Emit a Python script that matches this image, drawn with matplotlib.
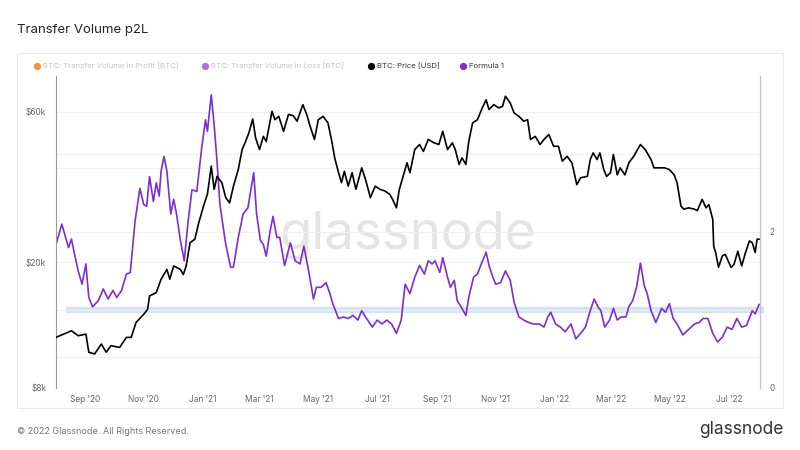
import numpy as np
import pandas as pd
import matplotlib
matplotlib.use("Agg")
import matplotlib.pyplot as plt
import matplotlib.dates as mdates
from matplotlib.lines import Line2D
from matplotlib.patches import Rectangle
from matplotlib.ticker import NullFormatter

plt.rcParams['font.family'] = ['Inter', 'DejaVu Sans']

# BTC price [USD]
price_dates = [
    '2020-08-02', '2020-08-10', '2020-08-18', '2020-08-25', '2020-09-02', '2020-09-05',
    '2020-09-11', '2020-09-18', '2020-09-23', '2020-09-28', '2020-10-07', '2020-10-14',
    '2020-10-19', '2020-10-24', '2020-11-01', '2020-11-05', '2020-11-07', '2020-11-14',
    '2020-11-19', '2020-11-25', '2020-11-28', '2020-12-02', '2020-12-09', '2020-12-12',
    '2020-12-15', '2020-12-19', '2020-12-24', '2020-12-28', '2021-01-02', '2021-01-06',
    '2021-01-10', '2021-01-13', '2021-01-16', '2021-01-21', '2021-01-25', '2021-01-29',
    '2021-02-02', '2021-02-07', '2021-02-11', '2021-02-14', '2021-02-18', '2021-02-22',
    '2021-02-25', '2021-03-01', '2021-03-05', '2021-03-08', '2021-03-14', '2021-03-17',
    '2021-03-21', '2021-03-26', '2021-03-31', '2021-04-05', '2021-04-09', '2021-04-15',
    '2021-04-19', '2021-04-22', '2021-04-27', '2021-05-01', '2021-05-06', '2021-05-11',
    '2021-05-15', '2021-05-18', '2021-05-22', '2021-05-25', '2021-05-28', '2021-06-01',
    '2021-06-05', '2021-06-09', '2021-06-15', '2021-06-19', '2021-06-24', '2021-06-29',
    '2021-07-04', '2021-07-09', '2021-07-14', '2021-07-17', '2021-07-21', '2021-07-24',
    '2021-08-01', '2021-08-04', '2021-08-09', '2021-08-14', '2021-08-18', '2021-08-23',
    '2021-08-29', '2021-09-03', '2021-09-07', '2021-09-12', '2021-09-17', '2021-09-20',
    '2021-09-24', '2021-09-27', '2021-10-01', '2021-10-04', '2021-10-08', '2021-10-13',
    '2021-10-18', '2021-10-22', '2021-10-25', '2021-10-30', '2021-11-04', '2021-11-08',
    '2021-11-11', '2021-11-16', '2021-11-20', '2021-11-25', '2021-11-30', '2021-12-04',
    '2021-12-07', '2021-12-12', '2021-12-17', '2021-12-21', '2021-12-26', '2021-12-31',
    '2022-01-05', '2022-01-09', '2022-01-14', '2022-01-19', '2022-01-24', '2022-01-28',
    '2022-02-04', '2022-02-07', '2022-02-10', '2022-02-14', '2022-02-17', '2022-02-21',
    '2022-02-24', '2022-02-28', '2022-03-03', '2022-03-07', '2022-03-10', '2022-03-15',
    '2022-03-19', '2022-03-24', '2022-03-28', '2022-03-31', '2022-04-05', '2022-04-11',
    '2022-04-14', '2022-04-19', '2022-04-25', '2022-04-30', '2022-05-05', '2022-05-08',
    '2022-05-12', '2022-05-15', '2022-05-20', '2022-05-26', '2022-05-29', '2022-06-03',
    '2022-06-07', '2022-06-10', '2022-06-14', '2022-06-15', '2022-06-17', '2022-06-20',
    '2022-06-24', '2022-06-27', '2022-07-03', '2022-07-06', '2022-07-10', '2022-07-14',
    '2022-07-18', '2022-07-22', '2022-07-25', '2022-07-28', '2022-07-30', '2022-08-01',
]
price_usd = [
    11570, 11850, 12140, 11710, 11850, 10380,
    10250, 11020, 10380, 10890, 10750, 11570,
    11570, 12900, 13700, 14200, 15660, 16050,
    17700, 19000, 17700, 19500, 19000, 18300,
    19500, 23100, 23700, 26700, 30200, 32900,
    40400, 34100, 37500, 35800, 32100, 30900,
    34900, 39400, 45600, 47900, 51500, 57000,
    49600, 45600, 50200, 48400, 60300, 56700,
    58100, 52100, 58900, 58400, 56100, 63300,
    58900, 54700, 49100, 56700, 58100, 55400,
    48400, 42900, 38500, 35800, 38900, 34900,
    38500, 34100, 39900, 36600, 32100, 34900,
    34100, 33700, 32900, 31700, 29800, 34100,
    41400, 38500, 45600, 47300, 45000, 49100,
    47900, 47300, 52100, 45600, 47900, 45600,
    40900, 42900, 40900, 48400, 55400, 56700,
    61800, 65600, 61100, 63300, 61800, 62500,
    67300, 64100, 59600, 58100, 56100, 56700,
    49100, 50200, 47300, 49100, 50900, 46700,
    46700, 41900, 43400, 41400, 35300, 37100,
    37500, 42400, 44500, 42400, 44500, 39400,
    37500, 38500, 44000, 37900, 39900, 37900,
    41400, 43400, 45600, 47300, 45600, 42400,
    39900, 39900, 39900, 39400, 37900, 35800,
    30200, 29500, 29800, 29500, 29200, 31700,
    29800, 30500, 27400, 22500, 21500, 19300,
    21000, 21200, 19300, 19700, 21700, 19500,
    21500, 23400, 23100, 21500, 23700, 23700,
]

# Formula 1 (profit / loss transfer volume), right axis
formula_dates = [
    '2020-08-02', '2020-08-08', '2020-08-11', '2020-08-15', '2020-08-18', '2020-08-22',
    '2020-08-25', '2020-08-29', '2020-09-02', '2020-09-05', '2020-09-09', '2020-09-15',
    '2020-09-20', '2020-09-25', '2020-09-30', '2020-10-04', '2020-10-09', '2020-10-14',
    '2020-10-18', '2020-10-23', '2020-10-28', '2020-11-01', '2020-11-04', '2020-11-07',
    '2020-11-11', '2020-11-14', '2020-11-17', '2020-11-19', '2020-11-22', '2020-11-25',
    '2020-11-29', '2020-12-02', '2020-12-05', '2020-12-09', '2020-12-13', '2020-12-17',
    '2020-12-21', '2020-12-26', '2020-12-31', '2021-01-04', '2021-01-06', '2021-01-10',
    '2021-01-13', '2021-01-16', '2021-01-19', '2021-01-25', '2021-01-30', '2021-02-02',
    '2021-02-07', '2021-02-12', '2021-02-17', '2021-02-23', '2021-02-26', '2021-03-02',
    '2021-03-05', '2021-03-08', '2021-03-12', '2021-03-15', '2021-03-19', '2021-03-22',
    '2021-03-27', '2021-04-02', '2021-04-07', '2021-04-12', '2021-04-16', '2021-04-21',
    '2021-04-26', '2021-04-29', '2021-05-04', '2021-05-09', '2021-05-13', '2021-05-16',
    '2021-05-22', '2021-05-27', '2021-06-01', '2021-06-06', '2021-06-11', '2021-06-15',
    '2021-06-19', '2021-06-26', '2021-07-01', '2021-07-06', '2021-07-11', '2021-07-16',
    '2021-07-21', '2021-07-26', '2021-07-30', '2021-08-04', '2021-08-09', '2021-08-14',
    '2021-08-19', '2021-08-23', '2021-08-27', '2021-08-30', '2021-09-04', '2021-09-07',
    '2021-09-12', '2021-09-15', '2021-09-19', '2021-09-22', '2021-09-26', '2021-10-01',
    '2021-10-04', '2021-10-09', '2021-10-13', '2021-10-17', '2021-10-22', '2021-10-25',
    '2021-10-29', '2021-11-01', '2021-11-06', '2021-11-11', '2021-11-16', '2021-11-20',
    '2021-11-25', '2021-11-30', '2021-12-05', '2021-12-10', '2021-12-16', '2021-12-21',
    '2021-12-25', '2021-12-28', '2022-01-02', '2022-01-07', '2022-01-12', '2022-01-18',
    '2022-01-23', '2022-01-28', '2022-02-02', '2022-02-07', '2022-02-11', '2022-02-15',
    '2022-02-18', '2022-02-22', '2022-02-27', '2022-03-03', '2022-03-07', '2022-03-11',
    '2022-03-16', '2022-03-19', '2022-03-23', '2022-03-27', '2022-03-31', '2022-04-04',
    '2022-04-07', '2022-04-11', '2022-04-16', '2022-04-22', '2022-04-26', '2022-04-30',
    '2022-05-04', '2022-05-08', '2022-05-14', '2022-05-20', '2022-05-26', '2022-05-31',
    '2022-06-04', '2022-06-09', '2022-06-14', '2022-06-19', '2022-06-24', '2022-06-29',
    '2022-07-04', '2022-07-09', '2022-07-14', '2022-07-19', '2022-07-25', '2022-07-28',
    '2022-08-01',
]
formula_vals = [
    1.84, 2.10, 1.97, 1.80, 1.91, 1.67,
    1.50, 1.33, 1.59, 1.16, 1.04, 1.12,
    1.27, 1.14, 1.25, 1.16, 1.25, 1.46,
    1.48, 2.14, 2.56, 2.35, 2.33, 2.71,
    2.39, 2.63, 2.46, 2.78, 2.97, 2.78,
    2.23, 2.42, 2.23, 1.89, 1.63, 2.14,
    2.54, 2.52, 3.07, 3.44, 3.29, 3.76,
    3.37, 2.90, 2.35, 1.84, 1.55, 1.55,
    1.93, 2.23, 2.31, 2.76, 2.23, 1.89,
    1.84, 1.69, 2.01, 2.20, 1.93, 1.93,
    1.57, 1.86, 1.63, 1.59, 1.82, 1.50,
    1.14, 1.29, 1.29, 1.35, 1.21, 1.08,
    0.89, 0.91, 0.89, 0.93, 0.87, 0.99,
    0.91, 0.78, 0.87, 0.82, 0.87, 0.82,
    0.70, 0.87, 1.33, 1.21, 1.42, 1.57,
    1.46, 1.63, 1.59, 1.63, 1.48, 1.67,
    1.42, 1.29, 1.38, 1.12, 1.04, 0.93,
    1.16, 1.42, 1.46, 1.59, 1.74, 1.57,
    1.42, 1.33, 1.35, 1.50, 1.38, 1.10,
    0.91, 0.87, 0.84, 0.82, 0.82, 0.78,
    0.91, 0.97, 0.82, 0.78, 0.72, 0.82,
    0.63, 0.70, 0.78, 0.99, 1.14, 1.04,
    0.99, 0.78, 0.87, 1.02, 0.87, 0.91,
    0.91, 1.04, 1.12, 1.29, 1.60, 1.31,
    1.21, 0.99, 0.84, 1.02, 0.97, 1.08,
    0.89, 0.82, 0.68, 0.75, 0.82, 0.84,
    0.89, 0.89, 0.70, 0.59, 0.65, 0.78,
    0.75, 0.89, 0.78, 0.80, 0.99, 0.95,
    1.07,
]

# reference level for the ratio
ref_level = 1.0
ref_span = ['2020-08-12', '2022-08-06']

price_lim = (8000, 78000)
left_ticks = [8000, 20000, 60000]
left_labels = ['$8k', '$20k', '$60k']
left_grid = [10000, 20000, 40000, 60000]
formula_lim = (0, 4)
right_ticks = [0, 2]
right_minor = [1, 3]

price_dates = pd.to_datetime(price_dates)
formula_dates = pd.to_datetime(formula_dates)

fig = plt.figure(figsize=(8, 4.5), dpi=100)
fig.patch.set_facecolor('white')

# light panel frame around the chart
fig.add_artist(Rectangle((17 / 800, 1 - 408 / 450), 766 / 800, 355 / 450,
                         transform=fig.transFigure, fill=False,
                         edgecolor='#e9e9e9', lw=0.8))

# bottom axes: Formula 1 (right scale), top axes: price (left scale)
ax = fig.add_axes([0.07, 0.138, 0.88, 0.693])
ax2 = ax.twinx()

ax.set_xlim(pd.Timestamp('2020-08-02'), pd.Timestamp('2022-08-02'))
ax.set_ylim(*formula_lim)
ax.set_yticks(right_ticks)
ax.set_yticks(right_minor, minor=True)
ax.yaxis.set_minor_formatter(NullFormatter())
ax.grid(True, which='both', axis='y', color='#f0f0f0', lw=0.8, zorder=0)
ax.yaxis.tick_right()

# price grid drawn on the bottom axes so it stays under both lines
lo, hi = np.log(price_lim[0]), np.log(price_lim[1])
for v in left_grid:
    fy = (np.log(v) - lo) / (hi - lo)
    ax.plot([0, 1], [fy, fy], transform=ax.transAxes, color='#f0f0f0', lw=0.8, zorder=0)

# watermark
ax.text(0.5, 0.49, 'glassnode', transform=ax.transAxes, ha='center', va='center',
        fontsize=38, color='#e4e4e4', zorder=0)

ax.plot(pd.to_datetime(ref_span), [ref_level, ref_level], color='#d5e3f1',
        lw=4.5, solid_capstyle='butt', zorder=1, clip_on=False)
ax.plot(formula_dates, formula_vals, color='#7a2ed4', lw=1.2, zorder=3)

ax2.plot(price_dates, price_usd, color='black', lw=1.2, zorder=3)
ax2.set_yscale('log')
ax2.set_ylim(*price_lim)
ax2.set_yticks(left_ticks)
ax2.set_yticklabels(left_labels)
ax2.yaxis.set_minor_formatter(NullFormatter())
ax2.tick_params(axis='y', which='minor', length=0)
ax2.yaxis.tick_left()
ax2.set_xlim(ax.get_xlim())

ax.xaxis.set_major_locator(mdates.MonthLocator(bymonth=[1, 3, 5, 7, 9, 11]))
ax.xaxis.set_major_formatter(mdates.DateFormatter("%b '%y"))

for a in (ax, ax2):
    for s in ('top', 'bottom'):
        a.spines[s].set_visible(False)
    a.tick_params(axis='both', which='both', length=0, labelsize=6, colors='#666666', pad=7)
ax.spines['left'].set_visible(False)
ax.spines['right'].set_color('#cdb6ea')
ax.spines['right'].set_linewidth(0.9)
ax2.spines['right'].set_visible(False)
ax2.spines['left'].set_color('#9a9a9a')
ax2.spines['left'].set_linewidth(0.8)
ax.tick_params(axis='x', pad=5)

# title, legend, footer
fig.text(17 / 800, 1 - 30 / 450, 'Transfer Volume p2L', fontsize=9.5,
         color='#222222', va='center')

legend_items = [
    (37, 'BTC: Transfer Volume in Profit [BTC]', '#f0962e', '#c4c4c4'),
    (205, 'BTC: Transfer Volume in Loss [BTC]', '#b76be0', '#c4c4c4'),
    (371, 'BTC: Price [USD]', '#000000', '#333333'),
    (463, 'Formula 1', '#7a2ed4', '#333333'),
]
ly = 1 - 66 / 450
for lx, label, dot, txt in legend_items:
    fig.add_artist(Line2D([lx / 800], [ly], marker='o', markersize=4.2, color=dot,
                          transform=fig.transFigure, linestyle='none'))
    fig.text((lx + 6) / 800, ly, label, fontsize=5.6, color=txt, va='center')

fig.text(17 / 800, 1 - 431 / 450, '\u00a9 2022 Glassnode. All Rights Reserved.',
         fontsize=6.5, color='#777777', va='center')
fig.text(783 / 800, 1 - 430 / 450, 'glassnode', fontsize=12.5, color='#333333',
         va='center', ha='right')

fig.savefig('out.png', dpi=100, facecolor='white')
